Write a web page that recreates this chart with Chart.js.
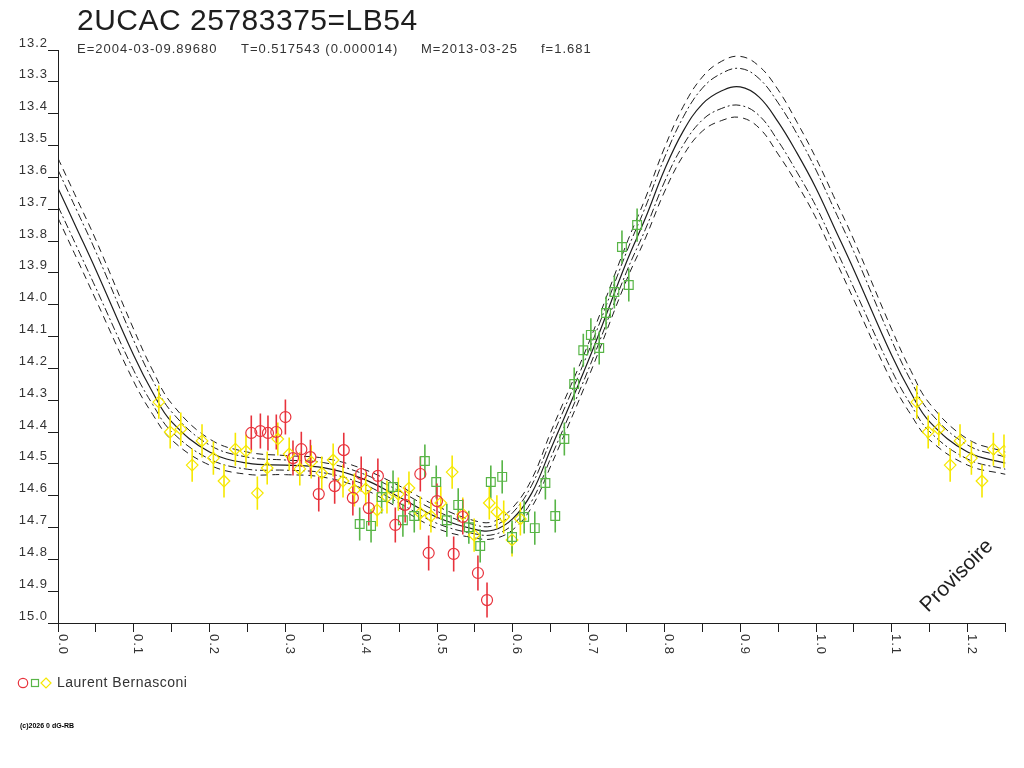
<!DOCTYPE html>
<html>
<head>
<meta charset="utf-8">
<title>2UCAC 25783375=LB54</title>
<script src="https://cdn.jsdelivr.net/npm/chart.js@4.4.0/dist/chart.umd.min.js"></script>
<style>
html, body { margin: 0; padding: 0; background: #fff; }
canvas { display: block; }
</style>
</head>
<body>
<canvas id="lcChart" width="1024" height="768"></canvas>
<script>
// texts
const starName = '2UCAC 25783375=LB54';
const elementParts = ['E=2004-03-09.89680', 'T=0.517543 (0.000014)', 'M=2013-03-25', 'f=1.681'];
const observerName = 'Laurent Bernasconi';
const stampText = '(c)2026 0 dG-RB';
const watermarkText = 'Provisoire';

// axes
const xTickLabels = ['0.0', '0.1', '0.2', '0.3', '0.4', '0.5', '0.6', '0.7', '0.8', '0.9', '1.0', '1.1', '1.2'];
const yTickLabels = ['13.2', '13.3', '13.4', '13.5', '13.6', '13.7', '13.8', '13.9', '14.0', '14.1',
                     '14.2', '14.3', '14.4', '14.5', '14.6', '14.7', '14.8', '14.9', '15.0'];
const phaseMin = 0;
const phaseMax = 1.25;

// observations (phase, magnitude)
const redPhase = [0.255, 0.267, 0.277, 0.288, 0.300, 0.310, 0.321, 0.333, 0.344, 0.365, 0.377, 0.389,
                  0.400, 0.410, 0.422, 0.445, 0.458, 0.478, 0.489, 0.500, 0.522, 0.534, 0.554, 0.566];
const redMag = [14.403, 14.397, 14.403, 14.400, 14.353, 14.482, 14.454, 14.479, 14.595, 14.570, 14.457, 14.607,
                14.532, 14.639, 14.538, 14.692, 14.629, 14.532, 14.780, 14.617, 14.783, 14.667, 14.843, 14.928];
const redErr = 0.055;

const greenPhase = [0.398, 0.413, 0.427, 0.442, 0.455, 0.470, 0.484, 0.499, 0.513, 0.528, 0.542, 0.557,
                    0.571, 0.586, 0.599, 0.615, 0.629, 0.643, 0.656, 0.668, 0.681, 0.693, 0.703, 0.714,
                    0.723, 0.734, 0.744, 0.753, 0.764];
const greenMag = [14.689, 14.695, 14.604, 14.573, 14.677, 14.664, 14.491, 14.557, 14.677, 14.629, 14.699, 14.758,
                  14.557, 14.541, 14.730, 14.667, 14.702, 14.560, 14.664, 14.422, 14.249, 14.143, 14.095, 14.136,
                  14.026, 13.960, 13.819, 13.938, 13.750];
const greenErr = 0.052;

const yellowPhase = [0.133, 0.148, 0.162, 0.177, 0.190, 0.205, 0.219, 0.234, 0.248, 0.263, 0.276, 0.290,
                     0.305, 0.319, 0.334, 0.348, 0.363, 0.376, 0.391, 0.406, 0.421, 0.434, 0.449, 0.463,
                     0.478, 0.492, 0.505, 0.520, 0.534, 0.549, 0.569, 0.579, 0.588, 0.599, 0.610];
const yellowMag = [14.306, 14.400, 14.391, 14.504, 14.428, 14.482, 14.554, 14.454, 14.460, 14.592, 14.513, 14.422,
                   14.469, 14.516, 14.494, 14.529, 14.488, 14.554, 14.582, 14.579, 14.645, 14.604, 14.595, 14.576,
                   14.655, 14.664, 14.623, 14.526, 14.658, 14.724, 14.623, 14.651, 14.667, 14.739, 14.673];
const yellowErr = 0.052;

// fitted light curve and its envelopes
const modelPhase = [0, 0.025, 0.05, 0.10, 0.125, 0.15, 0.20, 0.25, 0.30, 0.35, 0.40, 0.45, 0.50,
                    0.55, 0.575, 0.60, 0.625, 0.65, 0.70, 0.75, 0.775, 0.80, 0.825, 0.85, 0.875, 0.90,
                    0.925, 0.95, 0.975, 1.00, 1.025, 1.05, 1.10, 1.125, 1.15, 1.20, 1.25];
const modelMag = [13.634, 13.762, 13.891, 14.160, 14.276, 14.368, 14.463, 14.498, 14.504, 14.512, 14.545, 14.604, 14.668,
                  14.706, 14.708, 14.672, 14.592, 14.454, 14.174, 13.866, 13.728, 13.577, 13.454, 13.370, 13.329, 13.316,
                  13.348, 13.426, 13.524, 13.634, 13.762, 13.891, 14.160, 14.276, 14.368, 14.463, 14.498];
const outerDelta = [0.094, 0.094, 0.094, 0.082, 0.069, 0.057, 0.041, 0.035, 0.030, 0.030, 0.031, 0.035, 0.035,
                    0.027, 0.027, 0.035, 0.044, 0.053, 0.053, 0.057, 0.063, 0.069, 0.077, 0.085, 0.093, 0.096,
                    0.097, 0.101, 0.097, 0.094, 0.094, 0.094, 0.082, 0.069, 0.057, 0.041, 0.035];
const innerDelta = [0.057, 0.057, 0.057, 0.047, 0.038, 0.031, 0.022, 0.019, 0.016, 0.016, 0.016, 0.019, 0.019,
                    0.014, 0.014, 0.019, 0.025, 0.028, 0.028, 0.031, 0.035, 0.038, 0.044, 0.050, 0.055, 0.058,
                    0.058, 0.060, 0.060, 0.057, 0.057, 0.057, 0.047, 0.038, 0.031, 0.022, 0.019];

const RED = '#e8323c';
const GREEN = '#58b547';
const YELLOW = '#f6e800';
const INK = '#1e1e1e';
const TEXT = '#333333';
const FONT = '"Liberation Sans", Arial, sans-serif';

// points repeat one cycle later inside the plotted phase range
function toPoints(phases, mags) {
    const out = [];
    phases.forEach((p, i) => {
        out.push({ x: p, y: mags[i] });
        if (p + 1 <= phaseMax) out.push({ x: p + 1, y: mags[i] });
    });
    return out;
}

function toErrorBars(phases, mags, err) {
    const out = [];
    toPoints(phases, mags).forEach(pt => {
        out.push({ x: pt.x, y: pt.y - err });
        out.push({ x: pt.x, y: pt.y + err });
        out.push({ x: pt.x, y: null });
    });
    return out;
}

function modelLine(sign, delta) {
    return modelPhase.map((p, i) => ({ x: p, y: modelMag[i] + sign * (delta ? delta[i] : 0) }));
}

function markerSet(label, data, color, style, radius) {
    return {
        label: label, data: data, showLine: false,
        pointStyle: style, pointRadius: radius, pointBorderWidth: 1.2,
        pointBorderColor: color, pointBackgroundColor: 'rgba(0,0,0,0)'
    };
}

function barSet(label, data, color) {
    return {
        label: label, data: data, showLine: true, spanGaps: false,
        borderColor: color, borderWidth: 1.6, pointRadius: 0, tension: 0
    };
}

function curveSet(label, data, dash, width) {
    return {
        label: label, data: data, showLine: true,
        borderColor: INK, borderWidth: width, borderDash: dash,
        pointRadius: 0, tension: 0.4
    };
}

const datasets = [
    markerSet('red', toPoints(redPhase, redMag), RED, 'circle', 5.5),
    markerSet('green', toPoints(greenPhase, greenMag), GREEN, 'rect', 6.2),
    markerSet('yellow', toPoints(yellowPhase, yellowMag), YELLOW, 'rectRot', 5.8),
    barSet('redErr', toErrorBars(redPhase, redMag, redErr), RED),
    barSet('greenErr', toErrorBars(greenPhase, greenMag, greenErr), GREEN),
    barSet('yellowErr', toErrorBars(yellowPhase, yellowMag, yellowErr), YELLOW),
    curveSet('fit', modelLine(0), [], 1.2),
    curveSet('innerUp', modelLine(-1, innerDelta), [8, 3, 2, 3], 1),
    curveSet('innerDown', modelLine(1, innerDelta), [8, 3, 2, 3], 1),
    curveSet('outerUp', modelLine(-1, outerDelta), [7, 5], 1),
    curveSet('outerDown', modelLine(1, outerDelta), [7, 5], 1)
];

// titles, rotated phase labels, legend and stamps
const decorPlugin = {
    id: 'decor',
    beforeDraw(chart) {
        chart.ctx.letterSpacing = '1px';
    },
    afterDraw(chart) {
        const ctx = chart.ctx;
        const xs = chart.scales.x;
        ctx.save();

        ctx.letterSpacing = '0.5px';
        ctx.font = '30px ' + FONT;
        ctx.textAlign = 'left';
        ctx.textBaseline = 'alphabetic';
        ctx.fillStyle = INK;
        ctx.fillText(starName, 77, 30);

        ctx.letterSpacing = '1px';
        ctx.font = '13px ' + FONT;
        ctx.fillStyle = TEXT;
        const partX = [77, 241, 421, 541];
        elementParts.forEach((t, i) => ctx.fillText(t, partX[i], 53));

        // phase labels, turned a quarter clockwise
        xTickLabels.forEach(lbl => {
            const px = xs.getPixelForValue(parseFloat(lbl));
            ctx.save();
            ctx.translate(px + 0.5, 634);
            ctx.rotate(Math.PI / 2);
            ctx.textAlign = 'left';
            ctx.textBaseline = 'alphabetic';
            ctx.fillText(lbl, 0, 0);
            ctx.restore();
        });

        // legend
        ctx.lineWidth = 1.2;
        ctx.strokeStyle = RED;
        ctx.beginPath();
        ctx.arc(23, 683, 4.7, 0, Math.PI * 2);
        ctx.stroke();
        ctx.strokeStyle = GREEN;
        ctx.strokeRect(31.5, 679.5, 7, 7);
        ctx.strokeStyle = YELLOW;
        ctx.beginPath();
        ctx.moveTo(46, 678); ctx.lineTo(51, 683); ctx.lineTo(46, 688); ctx.lineTo(41, 683);
        ctx.closePath();
        ctx.stroke();

        ctx.letterSpacing = '0.5px';
        ctx.font = '14px ' + FONT;
        ctx.textBaseline = 'middle';
        ctx.fillStyle = TEXT;
        ctx.fillText(observerName, 57, 683);

        ctx.letterSpacing = '0px';
        ctx.font = 'bold 7px ' + FONT;
        ctx.fillStyle = '#000';
        ctx.fillText(stampText, 20, 726);

        // watermark
        ctx.save();
        ctx.translate(957, 576);
        ctx.rotate(-Math.PI / 4);
        ctx.font = '21px ' + FONT;
        ctx.textAlign = 'center';
        ctx.textBaseline = 'middle';
        ctx.fillStyle = INK;
        ctx.fillText(watermarkText, 0, 0);
        ctx.restore();

        ctx.restore();
    }
};

const config = {
    type: 'scatter',
    data: { datasets: datasets },
    options: {
        responsive: false,
        devicePixelRatio: 1,
        animation: false,
        events: [],
        layout: { padding: { left: 0, right: 18.5, top: 50, bottom: 100 } },
        plugins: {
            legend: { display: false },
            tooltip: { enabled: false },
            title: { display: false }
        },
        scales: {
            x: {
                type: 'linear',
                min: phaseMin,
                max: phaseMax,
                afterBuildTicks: scale => {
                    const ticks = [];
                    for (let i = 0; i <= 25; i++) ticks.push({ value: i * 0.05 });
                    scale.ticks = ticks;
                },
                afterFit: scale => { scale.height = 45; },
                ticks: { display: false },
                grid: { drawOnChartArea: false, drawTicks: true, tickLength: 9, color: INK, lineWidth: 1 },
                border: { display: true, color: INK, width: 1 }
            },
            y: {
                type: 'linear',
                reverse: true,
                min: 13.2,
                max: 15.0,
                afterBuildTicks: scale => {
                    scale.ticks = yTickLabels.map(l => ({ value: parseFloat(l) }));
                },
                afterFit: scale => { scale.width = 58; },
                ticks: {
                    callback: (v, i) => yTickLabels[i],
                    padding: 0,
                    labelOffset: -7,
                    color: TEXT,
                    font: { family: FONT, size: 13 }
                },
                grid: { drawOnChartArea: false, drawTicks: true, tickLength: 10, color: INK, lineWidth: 1 },
                border: { display: true, color: INK, width: 1 }
            }
        }
    },
    plugins: [decorPlugin]
};

const lcCanvas = document.getElementById('lcChart');
window.lcChart = new Chart(lcCanvas, config);
</script>
</body>
</html>
